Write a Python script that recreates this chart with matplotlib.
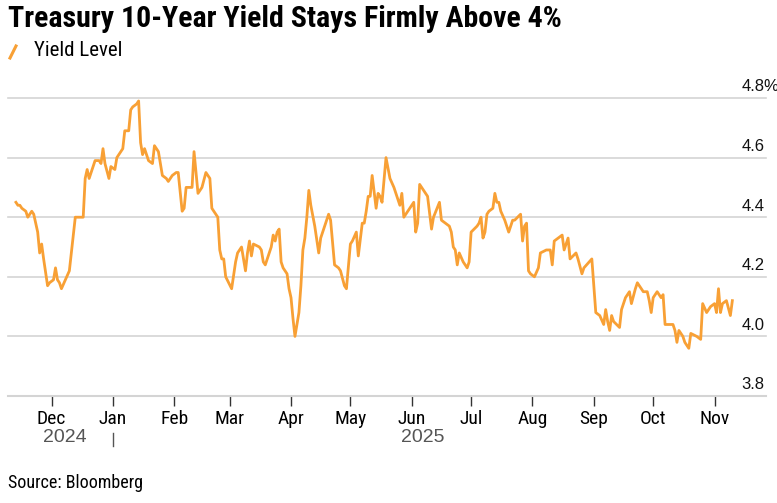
import pandas as pd
import matplotlib.pyplot as plt
import matplotlib.dates as mdates
from matplotlib.lines import Line2D

# 10-year Treasury yield (%)
dates = [
    "2024-11-13", "2024-11-14", "2024-11-15", "2024-11-16", "2024-11-18", "2024-11-19", "2024-11-21",
    "2024-11-22", "2024-11-24", "2024-11-25", "2024-11-26", "2024-11-27", "2024-11-29", "2024-11-30",
    "2024-12-02", "2024-12-03", "2024-12-04", "2024-12-05", "2024-12-06", "2024-12-08", "2024-12-10",
    "2024-12-11", "2024-12-13", "2024-12-17", "2024-12-18", "2024-12-19", "2024-12-20", "2024-12-22",
    "2024-12-23", "2024-12-25", "2024-12-26", "2024-12-27", "2024-12-28", "2024-12-30", "2024-12-31",
    "2025-01-02", "2025-01-03", "2025-01-05", "2025-01-06", "2025-01-07", "2025-01-09", "2025-01-10",
    "2025-01-11", "2025-01-13", "2025-01-14", "2025-01-15", "2025-01-16", "2025-01-17", "2025-01-18",
    "2025-01-19", "2025-01-21", "2025-01-22", "2025-01-24", "2025-01-26", "2025-01-28", "2025-01-29",
    "2025-01-31",
    "2025-02-02", "2025-02-03", "2025-02-05", "2025-02-06", "2025-02-07", "2025-02-10", "2025-02-11",
    "2025-02-13", "2025-02-15", "2025-02-17", "2025-02-19", "2025-02-20", "2025-02-23", "2025-02-24",
    "2025-02-25", "2025-02-26", "2025-02-27",
    "2025-03-02", "2025-03-04", "2025-03-05", "2025-03-06", "2025-03-07", "2025-03-09", "2025-03-10",
    "2025-03-11", "2025-03-12", "2025-03-13", "2025-03-16", "2025-03-17", "2025-03-18", "2025-03-19",
    "2025-03-20", "2025-03-22", "2025-03-23", "2025-03-24", "2025-03-25", "2025-03-26", "2025-03-27",
    "2025-03-28", "2025-03-30", "2025-03-31",
    "2025-04-01", "2025-04-02", "2025-04-03", "2025-04-05", "2025-04-06", "2025-04-07", "2025-04-08",
    "2025-04-09", "2025-04-10", "2025-04-11", "2025-04-13", "2025-04-15", "2025-04-16", "2025-04-17",
    "2025-04-20", "2025-04-21", "2025-04-23", "2025-04-25", "2025-04-26", "2025-04-28", "2025-04-29",
    "2025-05-01", "2025-05-02", "2025-05-04", "2025-05-05", "2025-05-07", "2025-05-08", "2025-05-09",
    "2025-05-10", "2025-05-11", "2025-05-12", "2025-05-14", "2025-05-15", "2025-05-16", "2025-05-17",
    "2025-05-19", "2025-05-21", "2025-05-23", "2025-05-24", "2025-05-26", "2025-05-27", "2025-05-28",
    "2025-05-31",
    "2025-06-02", "2025-06-03", "2025-06-04", "2025-06-05", "2025-06-06", "2025-06-08", "2025-06-09",
    "2025-06-11", "2025-06-12", "2025-06-15", "2025-06-16", "2025-06-18", "2025-06-20", "2025-06-21",
    "2025-06-22", "2025-06-23", "2025-06-24", "2025-06-25", "2025-06-27", "2025-06-29", "2025-06-30",
    "2025-07-01", "2025-07-04", "2025-07-05", "2025-07-06", "2025-07-07", "2025-07-08", "2025-07-09",
    "2025-07-10", "2025-07-12", "2025-07-13", "2025-07-14", "2025-07-15", "2025-07-16", "2025-07-18",
    "2025-07-20", "2025-07-22", "2025-07-23", "2025-07-26", "2025-07-27", "2025-07-28", "2025-07-29",
    "2025-07-30", "2025-07-31",
    "2025-08-02", "2025-08-04", "2025-08-05", "2025-08-08", "2025-08-10", "2025-08-11", "2025-08-12",
    "2025-08-14", "2025-08-16", "2025-08-17", "2025-08-19", "2025-08-20", "2025-08-23", "2025-08-24",
    "2025-08-26", "2025-08-27", "2025-08-31",
    "2025-09-02", "2025-09-04", "2025-09-06", "2025-09-07", "2025-09-08", "2025-09-09", "2025-09-10",
    "2025-09-11", "2025-09-14", "2025-09-15", "2025-09-17", "2025-09-19", "2025-09-20", "2025-09-22",
    "2025-09-23", "2025-09-24", "2025-09-26", "2025-09-28", "2025-09-29", "2025-09-30",
    "2025-10-01", "2025-10-03", "2025-10-05", "2025-10-06", "2025-10-07", "2025-10-11", "2025-10-12",
    "2025-10-13", "2025-10-14", "2025-10-16", "2025-10-17", "2025-10-19", "2025-10-20", "2025-10-23",
    "2025-10-25", "2025-10-26", "2025-10-28", "2025-10-30",
    "2025-11-01", "2025-11-02", "2025-11-03", "2025-11-04", "2025-11-05", "2025-11-07", "2025-11-09",
    "2025-11-10",
]
yields = [
    4.45, 4.44, 4.44, 4.43, 4.42, 4.40, 4.42, 4.41, 4.35, 4.28, 4.31, 4.26, 4.17, 4.18,
    4.19, 4.23, 4.19, 4.18, 4.16, 4.19, 4.22, 4.28, 4.40, 4.40, 4.53, 4.56, 4.53, 4.57,
    4.59, 4.59, 4.58, 4.63, 4.58, 4.53, 4.57,
    4.56, 4.60, 4.62, 4.63, 4.69, 4.69, 4.76, 4.77, 4.78, 4.79, 4.65, 4.61, 4.63, 4.61,
    4.59, 4.58, 4.64, 4.62, 4.54, 4.53, 4.52, 4.54,
    4.55, 4.55, 4.42, 4.43, 4.50, 4.50, 4.62, 4.48, 4.50, 4.55, 4.53, 4.43, 4.40, 4.29,
    4.26, 4.26, 4.20,
    4.16, 4.25, 4.28, 4.29, 4.30, 4.22, 4.28, 4.32, 4.27, 4.31, 4.30, 4.29, 4.25, 4.24,
    4.26, 4.30, 4.34, 4.32, 4.35, 4.36, 4.25, 4.23, 4.21, 4.16,
    4.13, 4.06, 4.00, 4.08, 4.17, 4.29, 4.33, 4.40, 4.49, 4.44, 4.37, 4.28, 4.33, 4.35,
    4.41, 4.39, 4.24, 4.23, 4.22, 4.17, 4.16,
    4.31, 4.32, 4.35, 4.27, 4.38, 4.38, 4.42, 4.47, 4.47, 4.54, 4.43, 4.48, 4.47, 4.45,
    4.60, 4.53, 4.50, 4.48, 4.44, 4.48, 4.40, 4.43,
    4.45, 4.35, 4.38, 4.51, 4.50, 4.48, 4.47, 4.36, 4.40, 4.45, 4.39, 4.38, 4.37, 4.35,
    4.30, 4.29, 4.24, 4.28, 4.25, 4.23, 4.25,
    4.35, 4.37, 4.38, 4.40, 4.33, 4.35, 4.41, 4.42, 4.43, 4.48, 4.45, 4.45, 4.42, 4.39,
    4.35, 4.39, 4.39, 4.41, 4.32, 4.37, 4.38, 4.22, 4.21,
    4.20, 4.23, 4.28, 4.29, 4.29, 4.24, 4.32, 4.33, 4.34, 4.29, 4.33, 4.26, 4.28, 4.26,
    4.21, 4.23, 4.26,
    4.08, 4.07, 4.04, 4.09, 4.05, 4.02, 4.07, 4.05, 4.03, 4.09, 4.13, 4.15, 4.11, 4.16,
    4.18, 4.17, 4.15, 4.15, 4.12, 4.08,
    4.13, 4.15, 4.13, 4.14, 4.04, 4.04, 4.02, 3.98, 4.02, 4.00, 3.98, 3.96, 4.01, 4.00,
    3.99, 4.11, 4.08, 4.10,
    4.11, 4.08, 4.16, 4.08, 4.11, 4.12, 4.07, 4.12,
]
y_ticks = [3.8, 4.0, 4.2, 4.4, 4.6, 4.8]
y_labels = ["3.8", "4.0", "4.2", "4.4", "4.6", "4.8%"]

df = pd.DataFrame({"date": pd.to_datetime(dates), "yield": yields})

narrow = ["Roboto Condensed", "Archivo Narrow", "DejaVu Sans"]
plain = ["Liberation Sans", "DejaVu Sans"]
orange = "#f8a035"
grid_c = "#d4d4d4"

fig = plt.figure(figsize=(7.77, 5.03), dpi=100)
ax = fig.add_axes([8 / 777, 107 / 503, 758 / 777, 298 / 503])

for v in y_ticks[1:]:
    ax.axhline(v, color=grid_c, lw=1.2, zorder=1, clip_on=False)
# value labels sit just above their gridline on the right
for v, lab in zip(y_ticks, y_labels):
    ax.text(0.968, v + 0.012, lab, transform=ax.get_yaxis_transform(),
            ha="left", va="bottom", fontsize=12, family=plain, color="#111111")

ax.plot(df["date"], df["yield"], color=orange, lw=2.0, zorder=3)

ax.set_ylim(3.8, 4.8)
ax.set_xlim(pd.Timestamp("2024-11-09"), pd.Timestamp("2025-11-27"))
ax.set_yticks([])
for s in ["top", "right", "left"]:
    ax.spines[s].set_visible(False)
ax.spines["bottom"].set_color(grid_c)
ax.spines["bottom"].set_linewidth(1.5)

ax.xaxis.set_major_locator(mdates.MonthLocator())
ax.xaxis.set_major_formatter(mdates.DateFormatter("%b"))
ax.tick_params(axis="x", length=7, width=1, color="#333333", pad=3, labelsize=14)
for t in ax.get_xticklabels():
    t.set_family(narrow)

# year labels centred between data ends and the year break
jan1 = pd.Timestamp("2025-01-01")
start, end = df["date"].iloc[0], df["date"].iloc[-1]
ax.text(start + (jan1 - start) / 2, -0.138, "2024", transform=ax.get_xaxis_transform(),
        ha="center", va="center", fontsize=14, family=plain, color="#555555")
ax.text(jan1 + (end - jan1) / 2, -0.138, "2025", transform=ax.get_xaxis_transform(),
        ha="center", va="center", fontsize=14, family=plain, color="#555555")
ax.plot([jan1, jan1], [-0.125, -0.168], transform=ax.get_xaxis_transform(),
        color="#555555", lw=1, clip_on=False)

fig.text(8 / 777, 1 - 19 / 503, "Treasury 10-Year Yield Stays Firmly Above 4%",
         fontsize=21.5, fontweight="bold", family=narrow, va="center", ha="left")
fig.add_artist(Line2D([10 / 777, 16 / 777], [1 - 58 / 503, 1 - 46 / 503], color=orange, lw=2.2))
fig.text(34 / 777, 1 - 51 / 503, "Yield Level", fontsize=15, family=narrow, va="center", ha="left")
fig.text(8 / 777, 1 - 483 / 503, "Source: Bloomberg", fontsize=13, family=narrow, va="center", ha="left")

fig.savefig("out.png", dpi=100)
